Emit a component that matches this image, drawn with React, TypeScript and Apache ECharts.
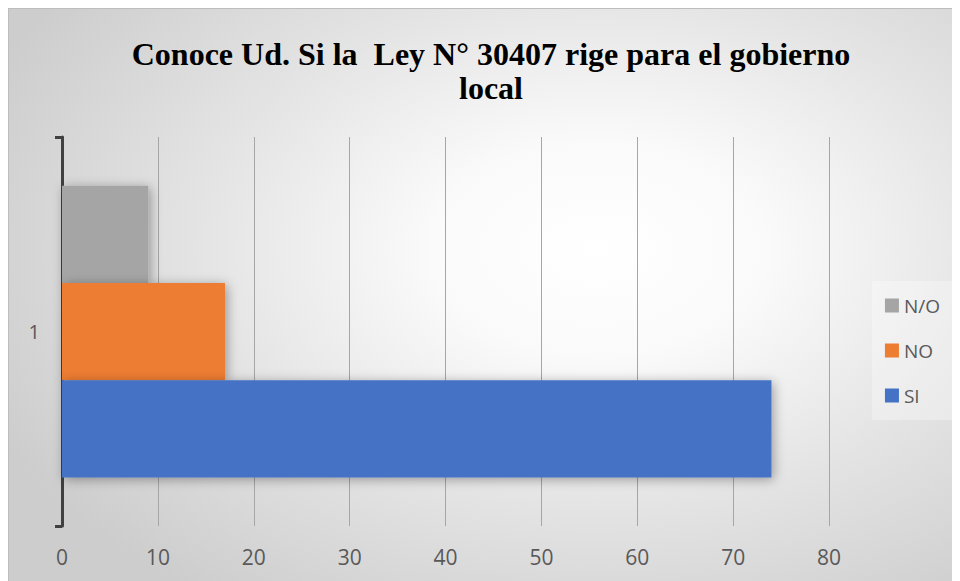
import React, { useEffect, useRef } from "react";
import * as echarts from "echarts";

const categories = ["1"];
const seriesNames = ["N/O", "NO", "SI"];
const noOpinionValues = [9];
const noValues = [17];
const siValues = [74];
const legendOrder = ["N/O", "NO", "SI"];
const xTicks = { min: 0, max: 80, interval: 10 };
const titleText = "Conoce Ud. Si la  Ley N° 30407 rige para el gobierno\nlocal";

const colors = ["#A5A5A5", "#ED7D31", "#4472C4"];

export default function App() {
  const ref = useRef<HTMLDivElement>(null);
  useEffect(() => {
    if (!ref.current) return;
    const chart = echarts.init(ref.current, undefined, { renderer: "svg" });
    const shadow = {
      shadowBlur: 12,
      shadowColor: "rgba(0,0,0,0.35)",
      shadowOffsetX: 2,
      shadowOffsetY: 2,
    };
    const values = [noOpinionValues, noValues, siValues];
    chart.setOption({
      animation: false,
      backgroundColor: "transparent",
      graphic: [
        {
          type: "text",
          x: 482,
          y: 28,
          style: {
            text: titleText,
            align: "center",
            verticalAlign: "top",
            fontFamily: "Liberation Serif",
            fontWeight: "bold",
            fontSize: 32,
            lineHeight: 34,
            fill: "#000000",
          },
        },
      ],
      grid: { left: 53, right: 131, top: 128, bottom: 55, containLabel: false },
      legend: {
        orient: "vertical",
        right: 6,
        top: 272,
        data: legendOrder,
        icon: "rect",
        itemWidth: 14,
        itemHeight: 14,
        itemGap: 26,
        padding: [15, 14, 15, 13],
        backgroundColor: "rgba(255,255,255,0.3)",
        textStyle: { fontFamily: "Open Sans", fontSize: 19, color: "#595959" },
      },
      xAxis: {
        type: "value",
        min: xTicks.min,
        max: xTicks.max,
        interval: xTicks.interval,
        axisLine: { show: false },
        axisTick: { show: false },
        splitLine: { show: true, lineStyle: { color: "#a6a6a6", width: 1 } },
        axisLabel: { fontFamily: "Open Sans", fontSize: 21, color: "#595959", margin: 20 },
      },
      yAxis: {
        type: "category",
        data: categories,
        axisLine: { show: true, lineStyle: { color: "#404040", width: 3 } },
        axisTick: { show: true, length: 7, lineStyle: { color: "#404040", width: 3 } },
        axisLabel: { fontFamily: "Open Sans", fontSize: 20, color: "#595959", margin: 22 },
      },
      series: seriesNames.map((name, i) => ({
        name,
        type: "bar",
        data: values[i],
        barGap: "0%",
        barCategoryGap: "25%",
        itemStyle: { color: colors[i], ...shadow },
        z: 2,
      })),
    });
    return () => chart.dispose();
  }, []);
  return (
    <div
      ref={ref}
      style={{
        width: 952,
        height: 573,
        boxSizing: "border-box",
        borderTop: "1px solid #bdbdbd",
        borderLeft: "1px solid #bdbdbd",
        background:
          "radial-gradient(ellipse 70% 75% at 62% 42%, #ffffff 0%, #fafafa 25%, #e4e4e4 60%, #cdcdcd 100%)",
      }}
    />
  );
}
